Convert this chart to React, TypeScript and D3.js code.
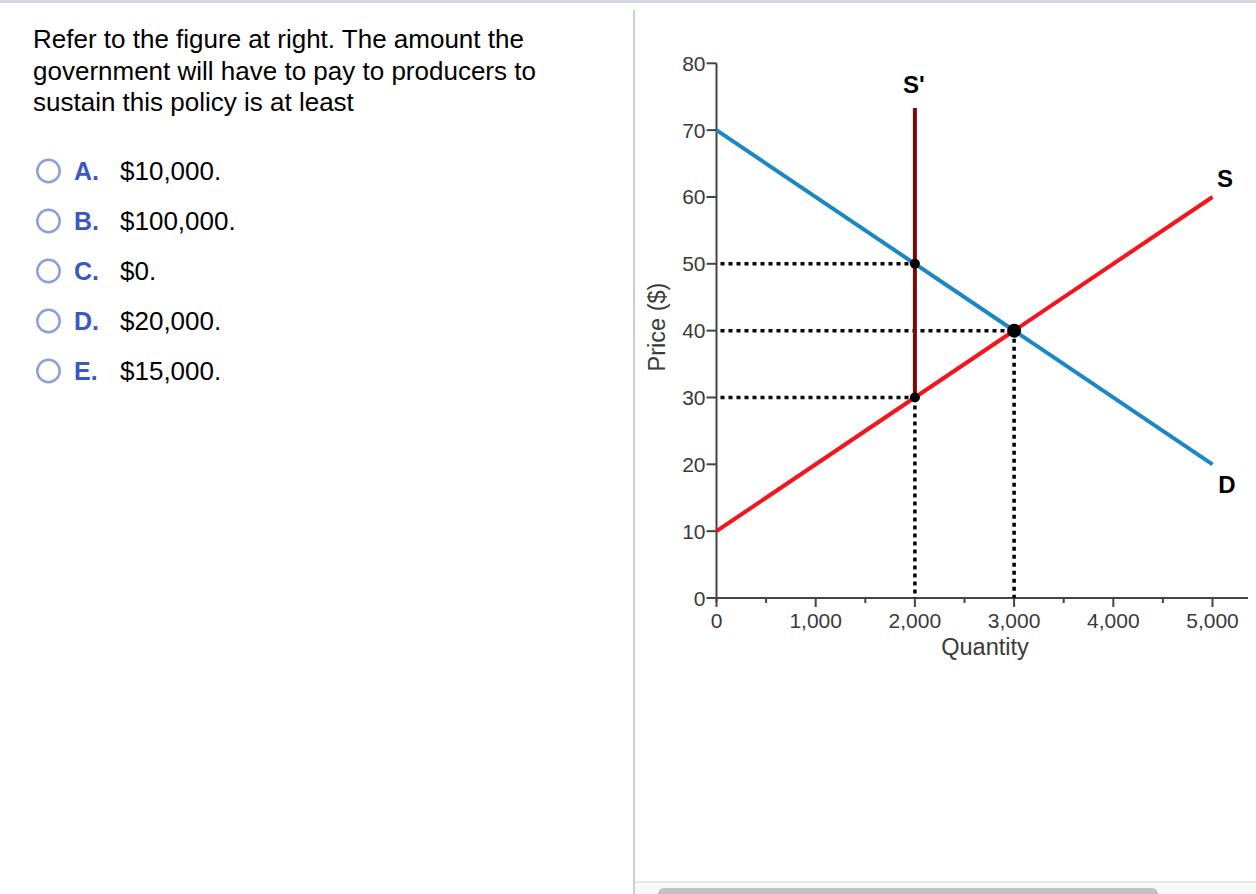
import React, { useEffect, useRef } from "react";
import * as d3 from "d3";

const question = [
  "Refer to the figure at right. The amount the",
  "government will have to pay to producers to",
  "sustain this policy is at least",
];
const optionLetters = ["A.", "B.", "C.", "D.", "E."];
const optionValues = ["$10,000.", "$100,000.", "$0.", "$20,000.", "$15,000."];

const xTicks = [0, 1000, 2000, 3000, 4000, 5000];
const xMinorTicks = [500, 1500, 2500, 3500, 4500];
const yTicks = [0, 10, 20, 30, 40, 50, 60, 70, 80];

// curves as [quantity, price]
const demand: [number, number][] = [[0, 70], [5000, 20]];
const supply: [number, number][] = [[0, 10], [5000, 60]];
const sPrime: [number, number][] = [[2000, 73.3], [2000, 30]];
const dottedH: [number, number, number][] = [[50, 0, 2000], [40, 0, 3000], [30, 0, 2000]];
const dottedV: [number, number, number][] = [[2000, 30, 0], [3000, 40, 0]];
const smallPoints: [number, number][] = [[2000, 50], [2000, 30]];
const bigPoint: [number, number] = [3000, 40];

const W = 1256;
const H = 894;

const App: React.FC = () => {
  const ref = useRef<SVGSVGElement>(null);

  useEffect(() => {
    const svg = d3.select(ref.current);
    svg.selectAll("*").remove();

    // page chrome
    svg.append("rect").attr("width", W).attr("height", H).attr("fill", "#fff");
    svg.append("rect").attr("width", W).attr("height", 3).attr("fill", "#d3d6de");
    svg.append("rect").attr("x", 633).attr("y", 10).attr("width", 2).attr("height", H - 10).attr("fill", "#c9cdd8");
    svg.append("rect").attr("x", 635).attr("y", 882).attr("width", W - 635).attr("height", 12).attr("fill", "#f8f8f8");
    svg.append("rect").attr("x", 635).attr("y", 881).attr("width", W - 635).attr("height", 2).attr("fill", "#e6e6e6");
    svg.append("rect").attr("x", 658).attr("y", 888).attr("width", 500).attr("height", 14).attr("rx", 6).attr("fill", "#c1c1c1");

    // question text
    const font = "'Liberation Sans', Arial, sans-serif";
    const q = svg.append("g").attr("font-family", font).attr("font-size", 26).attr("fill", "#000");
    question.forEach((t, i) => {
      q.append("text").attr("x", 33).attr("y", 48 + i * 31.5).text(t);
    });
    optionLetters.forEach((l, i) => {
      const y = 171 + i * 50;
      q.append("circle").attr("cx", 48.5).attr("cy", y).attr("r", 11.2)
        .attr("fill", "#fff").attr("stroke", "#8aa0de").attr("stroke-width", 2.5);
      q.append("text").attr("x", 74).attr("y", y + 9).attr("font-weight", "bold")
        .attr("font-size", 25).attr("fill", "#3b57c4").text(l);
      q.append("text").attr("x", 120).attr("y", y + 9).text(optionValues[i]);
    });

    // chart
    const x = d3.scaleLinear().domain([0, 5000]).range([716.5, 1212.5]);
    const y = d3.scaleLinear().domain([0, 80]).range([598, 63.3]);
    const axisColor = "#444";
    const tickColor = "#3a3a3a";
    const g = svg.append("g").attr("font-family", font);

    g.append("line").attr("x1", x(0)).attr("x2", 1248).attr("y1", y(0)).attr("y2", y(0))
      .attr("stroke", axisColor).attr("stroke-width", 2);
    g.append("line").attr("x1", x(0)).attr("x2", x(0)).attr("y1", y(0) + 4).attr("y2", y(80))
      .attr("stroke", axisColor).attr("stroke-width", 2);

    yTicks.forEach((v) => {
      g.append("line").attr("x1", x(0) - 10).attr("x2", x(0)).attr("y1", y(v)).attr("y2", y(v))
        .attr("stroke", axisColor).attr("stroke-width", 2);
      g.append("text").attr("x", x(0) - 11).attr("y", y(v) + 7.5).attr("text-anchor", "end")
        .attr("font-size", 21).attr("fill", tickColor).text(v);
    });
    xTicks.forEach((v) => {
      g.append("line").attr("x1", x(v)).attr("x2", x(v)).attr("y1", y(0)).attr("y2", y(0) + 9)
        .attr("stroke", axisColor).attr("stroke-width", 2);
      g.append("text").attr("x", x(v)).attr("y", 628).attr("text-anchor", "middle")
        .attr("font-size", 21).attr("fill", tickColor).text(d3.format(",")(v));
    });
    xMinorTicks.forEach((v) => {
      g.append("line").attr("x1", x(v)).attr("x2", x(v)).attr("y1", y(0)).attr("y2", y(0) + 5)
        .attr("stroke", axisColor).attr("stroke-width", 2);
    });

    g.append("text").attr("x", 985).attr("y", 655).attr("text-anchor", "middle")
      .attr("font-size", 23.5).attr("fill", tickColor).text("Quantity");
    g.append("text").attr("transform", `translate(665,327) rotate(-90)`).attr("text-anchor", "middle")
      .attr("font-size", 23.5).attr("fill", tickColor).text("Price ($)");

    // dotted guides
    const dot = { stroke: "#000", w: 3.5, dash: "4,4" };
    dottedH.forEach(([p, q0, q1]) => {
      g.append("line").attr("x1", x(q0) + 4).attr("x2", x(q1)).attr("y1", y(p)).attr("y2", y(p))
        .attr("stroke", dot.stroke).attr("stroke-width", dot.w).attr("stroke-dasharray", dot.dash);
    });
    dottedV.forEach(([qq, p0, p1]) => {
      g.append("line").attr("x1", x(qq)).attr("x2", x(qq)).attr("y1", y(p0)).attr("y2", y(p1))
        .attr("stroke", dot.stroke).attr("stroke-width", dot.w).attr("stroke-dasharray", dot.dash);
    });

    const line = d3.line<[number, number]>().x((d) => x(d[0])).y((d) => y(d[1]));
    g.append("path").attr("d", line(sPrime)).attr("stroke", "#7a0a0a").attr("stroke-width", 4).attr("fill", "none");
    g.append("path").attr("d", line(demand)).attr("stroke", "#1b87c6").attr("stroke-width", 4).attr("fill", "none");
    g.append("path").attr("d", line(supply)).attr("stroke", "#f5141e").attr("stroke-width", 4).attr("fill", "none");

    smallPoints.forEach(([qq, p]) => {
      g.append("circle").attr("cx", x(qq)).attr("cy", y(p)).attr("r", 5).attr("fill", "#000");
    });
    g.append("circle").attr("cx", x(bigPoint[0])).attr("cy", y(bigPoint[1])).attr("r", 7).attr("fill", "#000");

    const lab = g.append("g").attr("font-size", 24).attr("font-weight", "bold").attr("fill", "#000").attr("text-anchor", "middle");
    lab.append("text").attr("x", x(2000) - 1).attr("y", 93).text("S'");
    lab.append("text").attr("x", 1225).attr("y", 187).text("S");
    lab.append("text").attr("x", 1227).attr("y", 493).text("D");
  }, []);

  return (
    <svg ref={ref} width={W} height={H} style={{ position: "absolute", left: 0, top: 0, display: "block" }} />
  );
};

export default App;
